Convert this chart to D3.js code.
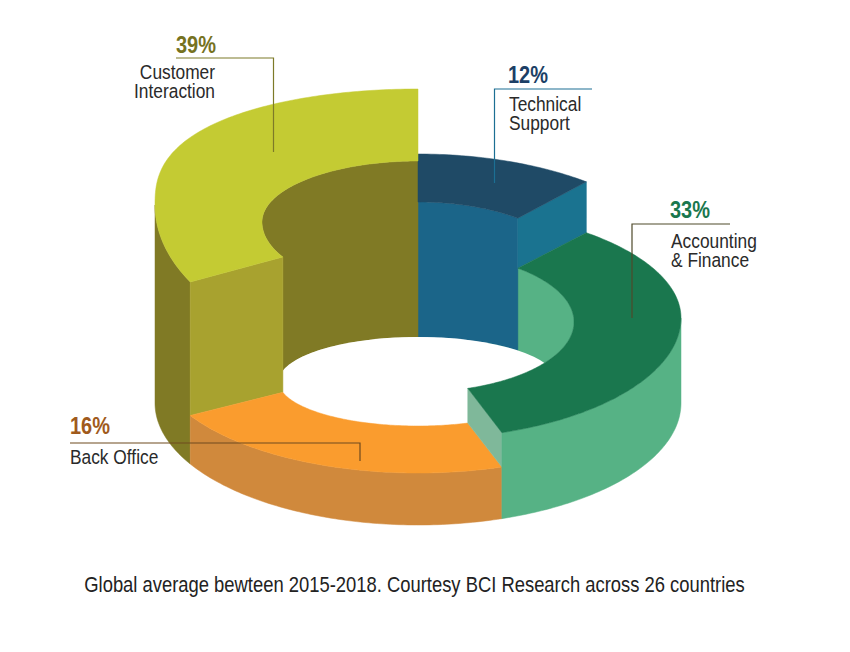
<!DOCTYPE html>
<html><head><meta charset="utf-8">
<script src="https://cdn.jsdelivr.net/npm/d3@7"></script>
<style>html,body{margin:0;padding:0;background:#fff}svg{display:block}
text{font-family:"Liberation Sans",Arial,sans-serif}</style>
</head><body><svg id="c" width="850" height="652"></svg>
<script>
// --- data ---
const categories = ["Technical Support", "Accounting & Finance", "Back Office", "Customer Interaction"];
const shares = [12, 33, 16, 39];
const sweepDegrees = [39.8, 121.6, 78.6, 120];   // drawn angular span of each slice
const sliceHeights = [129, 85, 45, 198];         // drawn extrusion of each slice
const caption = "Global average bewteen 2015-2018. Courtesy BCI Research across 26 countries";

// --- styles and layout ---
const topColors  = ["#1f4a66", "#1a774e", "#fa9c2e", "#c4cb33"];
const wallColors = ["#1b6589", "#56b285", "#d0893c", "#807a25"];
const cutColors  = ["#1a7390", "#7fb89a", null, "#a8a22f"];
const cx = 418, rxOut = 263, rxIn = 156, baseY = 403;
const heightToY = d3.scaleLinear().domain([0, 200]).range([baseY, baseY - 200]);
const toRad = d3.scaleLinear().domain([0, 360]).range([0, 2 * Math.PI]);
const slices = d3.pie().sort(null).startAngle(0).endAngle(2 * Math.PI)(sweepDegrees);

const outerEll = [
  {up: 120, lo: 120}, {up: 111, lo: 121}, {up: 115, lo: 115}, {up: 116, lo: 154, p: 0.78}
].map((e, i) => ({rx: rxOut, cy: heightToY(sliceHeights[i]), ...e}));
const innerEll = [
  {off: -2, up: 70, lo: 70}, {off: 4, up: 70, lo: 70}, null, {off: 17, up: 61, lo: 70}
].map((e, i) => e && ({rx: rxIn, cy: heightToY(sliceHeights[i]) + e.off, up: e.up, lo: e.lo}));
const baseEll = {rx: rxOut, cy: baseY, up: 122, lo: 122};
const holeEll = {rx: 139.3, cy: 381.5, up: 44.5, lo: 44.5};
innerEll[2] = holeEll;

const pt = (e, t) => {
  const c = Math.cos(t);
  const v = c >= 0 ? e.up * Math.pow(c, e.p || 1) : e.lo * c;
  return [cx + e.rx * Math.sin(t), e.cy - v];
};
const arcPts = (e, a, b) => {
  const n = Math.max(2, Math.ceil(Math.abs(b - a) * 60));
  return d3.range(n + 1).map(i => pt(e, a + (b - a) * i / n));
};
const line = d3.line();
const svg = d3.select("#c");
const poly = (pts, fill) => svg.append("path").attr("d", line(pts) + "Z")
  .attr("fill", fill).attr("stroke", fill).attr("stroke-width", 0.5).attr("stroke-linejoin", "round");

const [blue, green, orange, yellow] = slices;
const holeSin = t => Math.asin(rxIn * Math.abs(Math.sin(t)) / holeEll.rx * (Math.abs(rxIn * Math.sin(t)) > holeEll.rx ? 0 : 1));

// back inner walls
poly(arcPts(innerEll[1], green.startAngle, green.endAngle), wallColors[1]);
const hb = holeSin(blue.endAngle);
poly([...arcPts(innerEll[0], 0, blue.endAngle), ...arcPts(holeEll, hb, 0)], wallColors[0]);
const ya = yellow.startAngle, hy = holeSin(ya);
poly([...arcPts(innerEll[3], 2 * Math.PI, ya), ...arcPts(holeEll, 2 * Math.PI - hy, 2 * Math.PI)], wallColors[3]);

// hole
svg.append("ellipse").attr("cx", cx).attr("cy", holeEll.cy).attr("rx", holeEll.rx).attr("ry", holeEll.up).attr("fill", "#fff");

// blue radial cut
poly([pt(outerEll[0], blue.endAngle), pt(innerEll[0], blue.endAngle),
      pt(innerEll[1], blue.endAngle), pt(outerEll[1], blue.endAngle)], cutColors[0]);

// outer walls and yellow cut
const oInA = Math.PI - holeSin(orange.startAngle);
const oInB = Math.PI + hy;
const floorIn = pt(holeEll, oInB);
poly([...arcPts(outerEll[3], toRad(270), ya), ...arcPts(baseEll, ya, toRad(270))], wallColors[3]);
poly([pt(outerEll[3], ya), pt(innerEll[3], ya), floorIn, pt(outerEll[2], ya)], cutColors[3]);
poly([...arcPts(outerEll[2], orange.endAngle, orange.startAngle),
      ...arcPts(baseEll, orange.startAngle, orange.endAngle)], wallColors[2]);

// orange top
poly([...arcPts(outerEll[2], orange.startAngle, orange.endAngle),
      ...arcPts(holeEll, oInB, oInA)], topColors[2]);

// green cut and wall
poly([pt(innerEll[1], green.endAngle), pt(outerEll[1], green.endAngle),
      pt(outerEll[2], green.endAngle), pt(holeEll, oInA)], cutColors[1]);
poly([...arcPts(outerEll[1], toRad(90), green.endAngle), ...arcPts(baseEll, green.endAngle, toRad(90))], wallColors[1]);

// tops
poly([...arcPts(outerEll[0], 0, blue.endAngle), ...arcPts(innerEll[0], blue.endAngle, 0)], topColors[0]);
poly([...arcPts(outerEll[1], green.startAngle, green.endAngle), ...arcPts(innerEll[1], green.endAngle, green.startAngle)], topColors[1]);
poly([...arcPts(outerEll[3], ya, 2 * Math.PI), ...arcPts(innerEll[3], 2 * Math.PI, ya)], topColors[3]);

// leaders and labels
const leaders = [
  {pts: [[592, 89], [494.5, 89], [494.5, 183]], c: "#1c6f93"},
  {pts: [[730, 224], [632, 224], [632, 318]], c: "#4f4a2a"},
  {pts: [[70, 443], [360, 443], [360, 461]], c: "#6e4a1e"},
  {pts: [[176, 58], [273.5, 58], [273.5, 152]], c: "#7d7a28"}
];
leaders.forEach(l => svg.append("path").attr("d", line(l.pts)).attr("fill", "none").attr("stroke", l.c).attr("stroke-width", 1.2));

const narrowText = (x, y, sx, str, size, fill, weight, anchor) => svg.append("text")
  .attr("transform", `translate(${x},${y}) scale(${sx},1)`)
  .attr("text-anchor", anchor || "start").attr("font-size", size)
  .attr("font-weight", weight || 400).attr("fill", fill).text(str);

const pctStyle = [
  {x: 508, y: 83, c: "#1c3f66"}, {x: 670, y: 218, c: "#1a774e"},
  {x: 70, y: 434, c: "#a05a1c"}, {x: 176, y: 53, c: "#76721f"}
];
shares.forEach((s, i) => narrowText(pctStyle[i].x, pctStyle[i].y, 0.833, s + "%", 24, pctStyle[i].c, 700));

const labelLines = [["Technical", "Support"], ["Accounting", "& Finance"], ["Back Office"], ["Customer", "Interaction"]];
const labelPos = [
  {x: 509, y: 111, a: "start"}, {x: 671, y: 248, a: "start"},
  {x: 70, y: 464, a: "start"}, {x: 215, y: 79, a: "end"}
];
labelLines.forEach((ls, i) => ls.forEach((t, j) =>
  narrowText(labelPos[i].x, labelPos[i].y + j * 19, 0.89, t, 19.5, "#2a2a2a", 400, labelPos[i].a)));

narrowText(414.5, 592, 0.856, caption, 21.5, "#222", 400, "middle");
</script></body></html>
